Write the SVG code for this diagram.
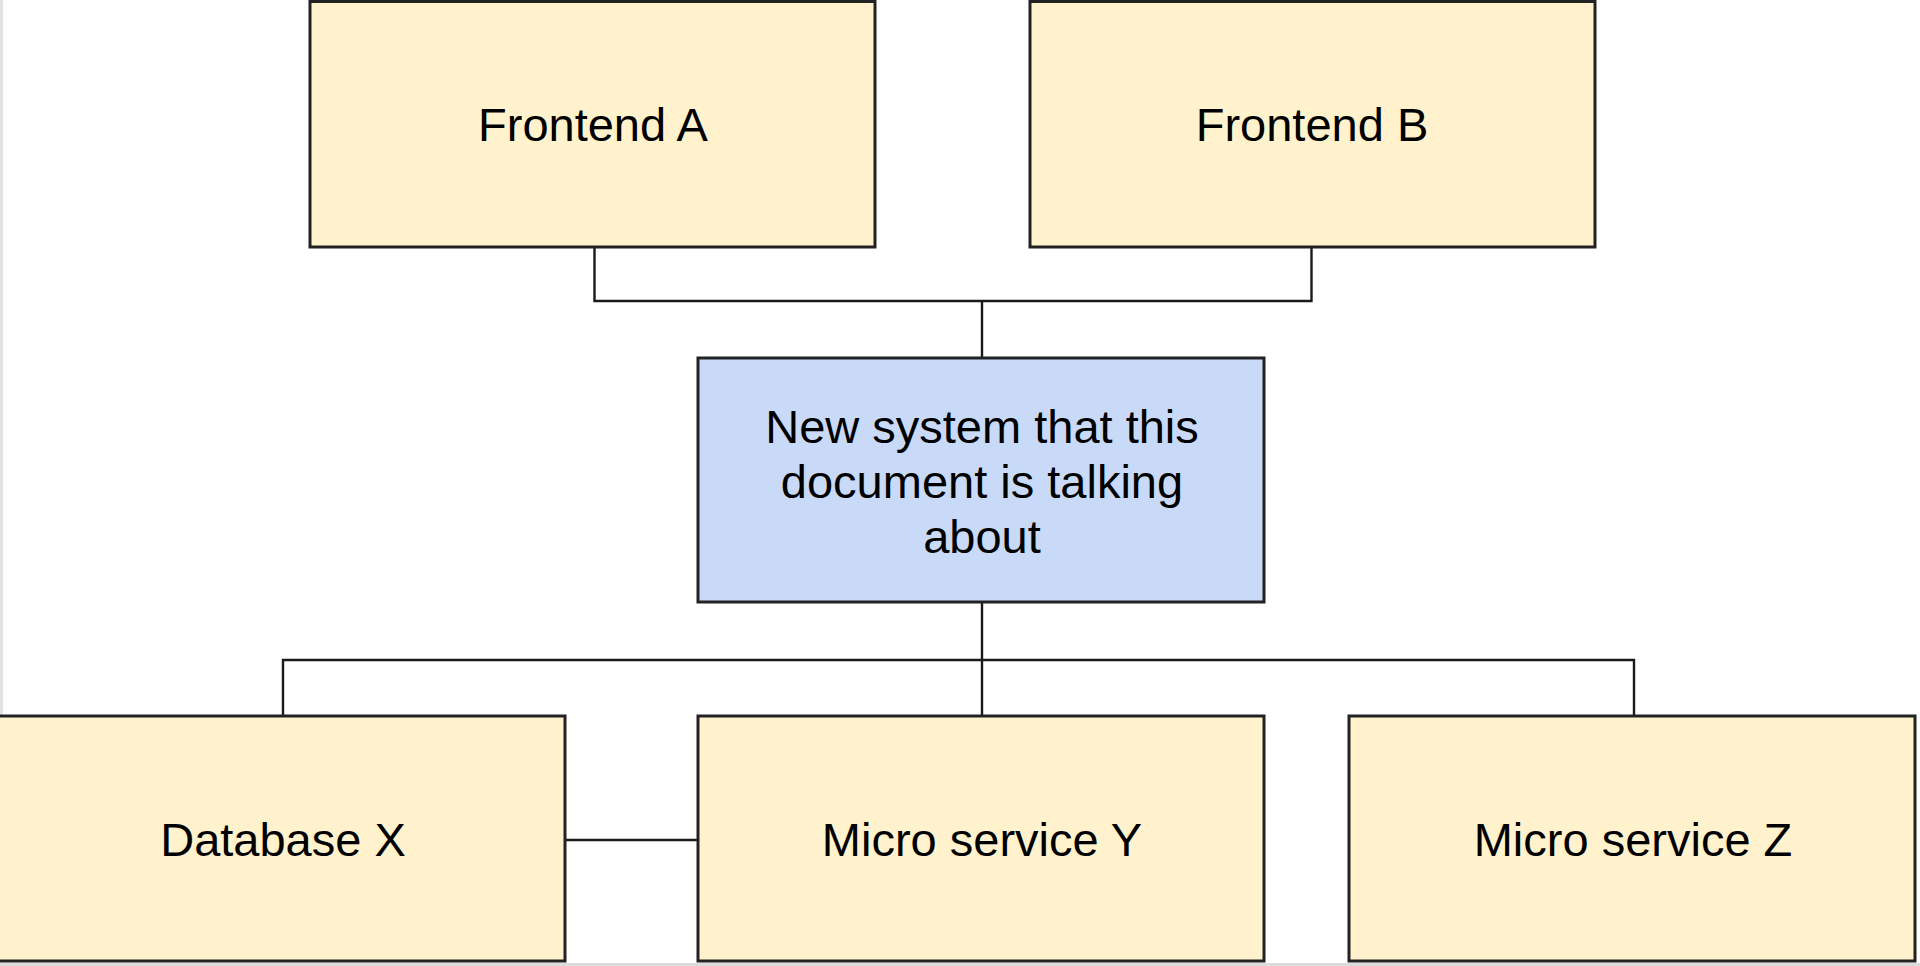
<svg xmlns="http://www.w3.org/2000/svg" width="1920" height="966" viewBox="0 0 1920 966">
<style>
.box{stroke:#222;stroke-width:3}
.y{fill:#fff2cc}
.b{fill:#c9daf8}
.t{font-family:"Liberation Sans",Arial,sans-serif;font-size:47px;fill:#000;text-anchor:middle}
.c{fill:none;stroke:#1a1a1a;stroke-width:2.4}
</style>
<rect x="0" y="0" width="1920" height="966" fill="#ffffff"/>
<rect x="0" y="0" width="3" height="716" fill="#e2e2e2"/>
<rect x="0" y="963" width="1920" height="3" fill="#dcdcdc"/>
<g id="connectors">
<path class="c" d="M594.5 247 V301 H1311.5 V247"/>
<path class="c" d="M982 301 V358"/>
<path class="c" d="M982 602 V716"/>
<path class="c" d="M283 716 V660 H1634 V716"/>
<path class="c" d="M565 840 H698"/>
</g>
<g id="frontend-a">
<rect class="box y" x="310" y="1.5" width="565" height="245.5"/>
<text class="t" x="593" y="141">Frontend A</text>
</g>
<g id="frontend-b">
<rect class="box y" x="1030" y="1.5" width="565" height="245.5"/>
<text class="t" x="1312" y="141">Frontend B</text>
</g>
<g id="new-system">
<rect class="box b" x="698" y="358" width="566" height="244"/>
<text class="t" x="982" y="443">New system that this</text>
<text class="t" x="982" y="498">document is talking</text>
<text class="t" x="982" y="553">about</text>
</g>
<g id="database-x">
<rect class="box y" x="-10" y="716" width="575" height="245"/>
<text class="t" x="283" y="856">Database X</text>
</g>
<g id="micro-service-y">
<rect class="box y" x="698" y="716" width="566" height="245"/>
<text class="t" x="982" y="856">Micro service Y</text>
</g>
<g id="micro-service-z">
<rect class="box y" x="1349" y="716" width="566" height="245"/>
<text class="t" x="1633" y="856">Micro service Z</text>
</g>
</svg>
